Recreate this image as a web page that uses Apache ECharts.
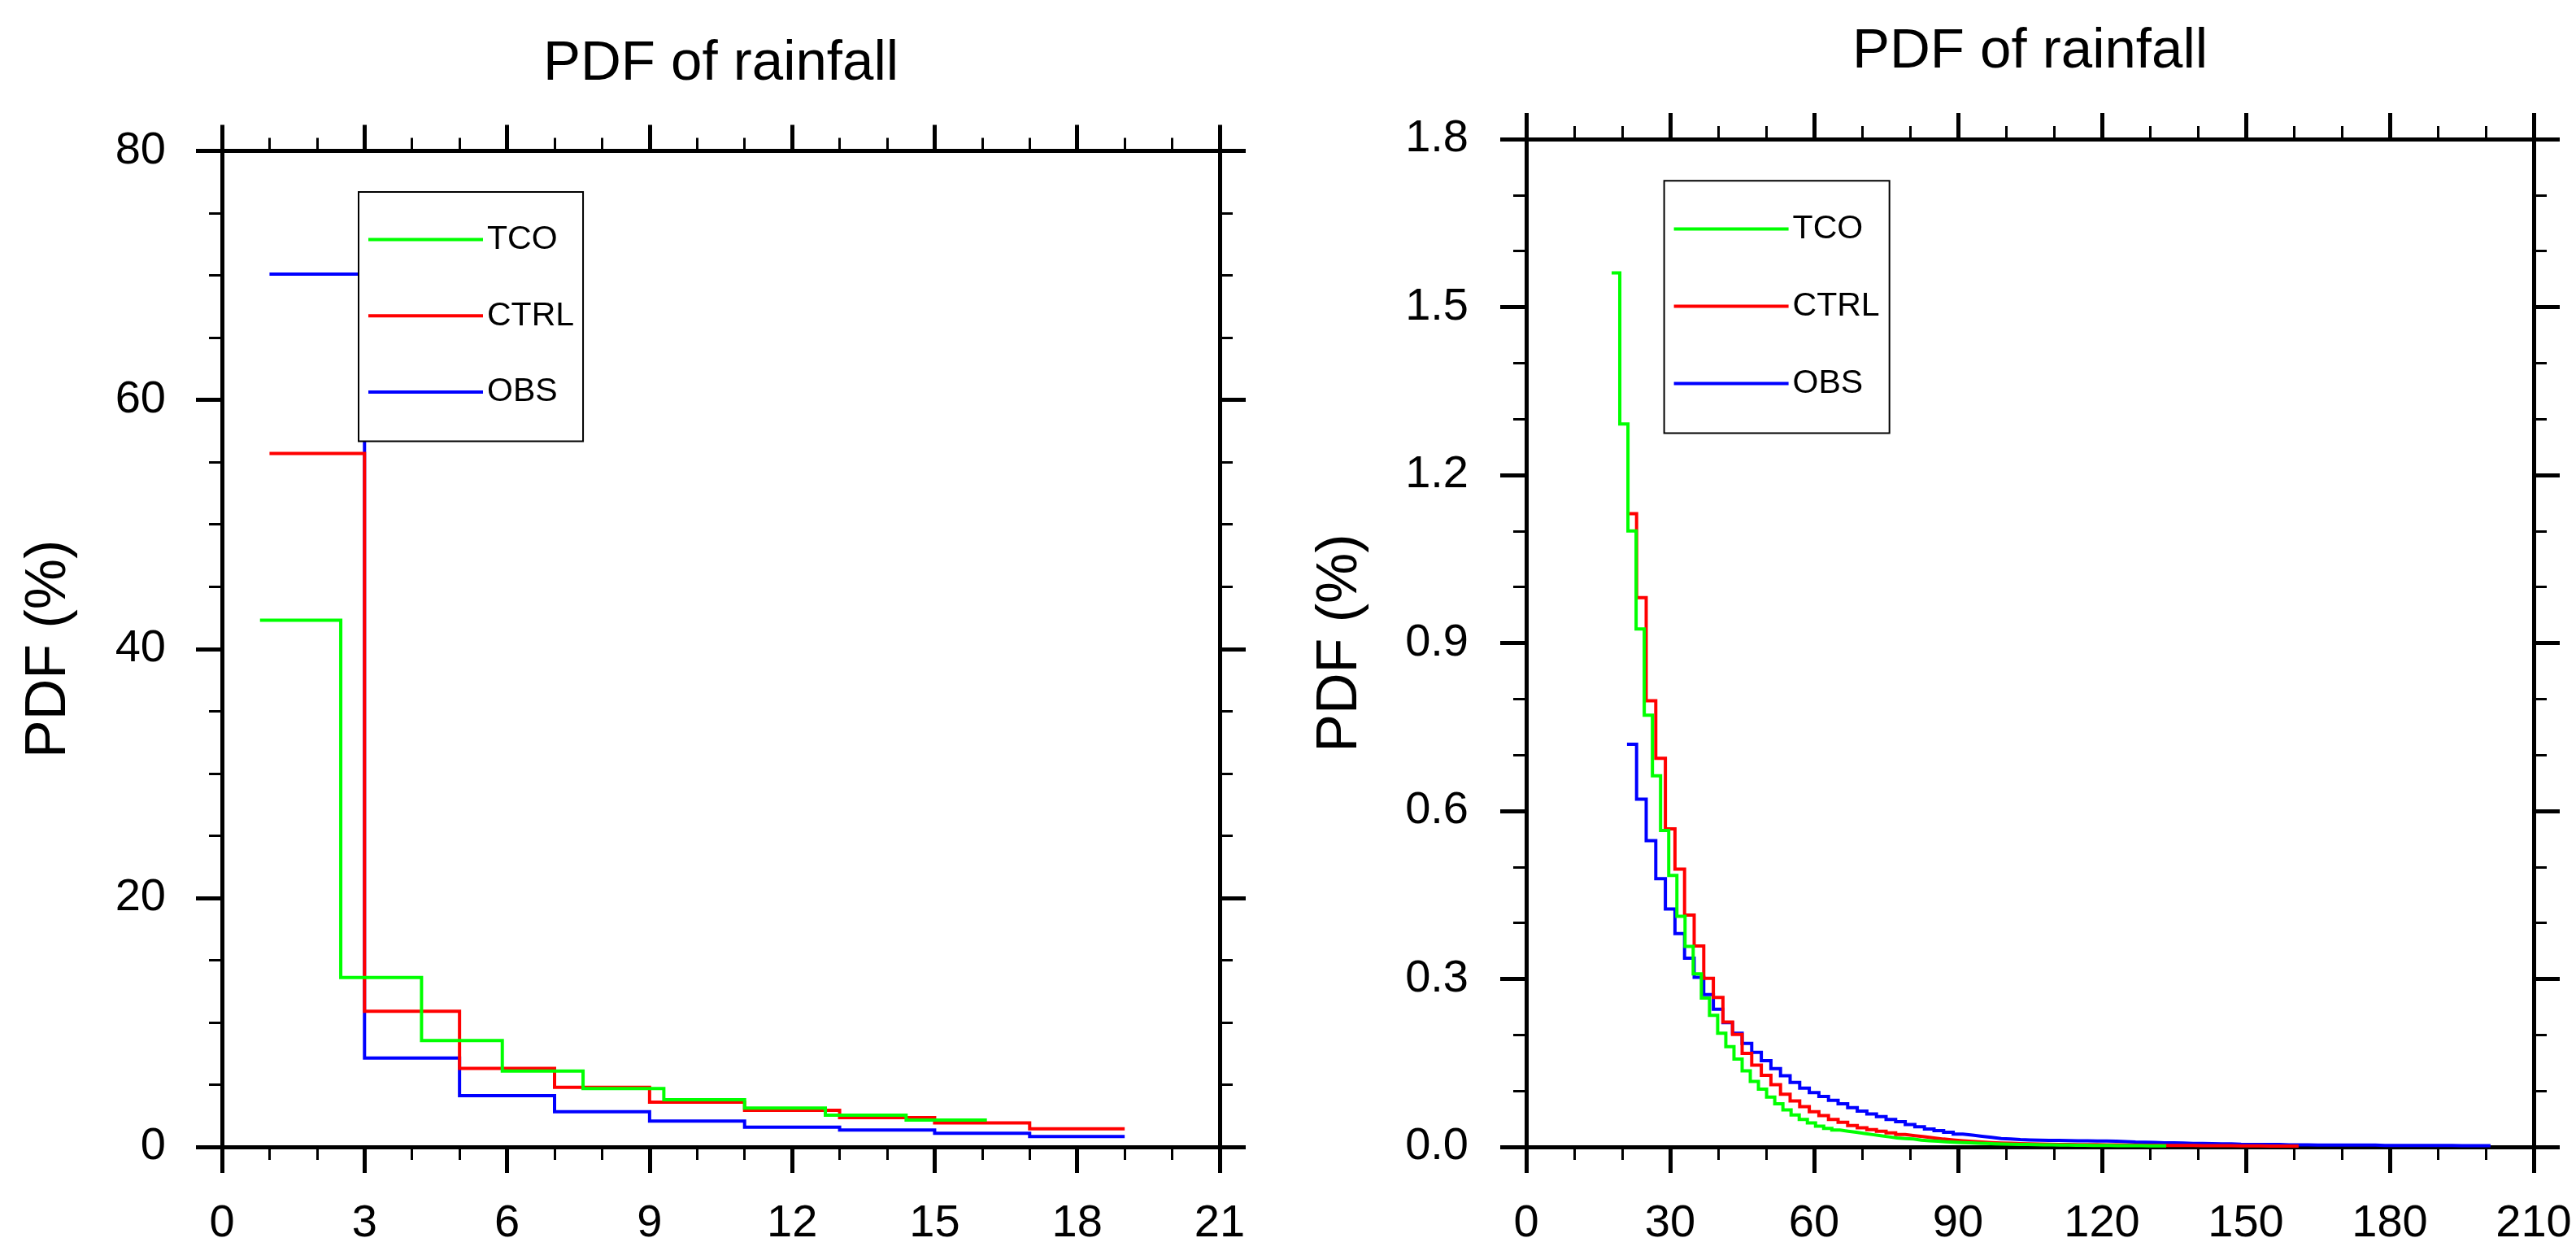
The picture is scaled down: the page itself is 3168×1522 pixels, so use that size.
<!DOCTYPE html>
<html>
<head>
<meta charset="utf-8">
<script src="https://cdn.jsdelivr.net/npm/echarts@6/dist/echarts.min.js"></script>
<style>
html, body { margin: 0; padding: 0; background: #fff; }
#chart { width: 3168px; height: 1522px; }
</style>
</head>
<body>
<div id="chart"></div>
<script>
const FONT = "'Liberation Sans', Arial, Helvetica, sans-serif";
const GREEN = "#00ff00";
const RED = "#ff0000";
const BLUE = "#0000ff";
const SERIES_NAMES = ["TCO", "CTRL", "OBS"];

// ---- left panel: rainfall 0-21 ----
const leftTcoEdges = [0.8, 2.5, 4.2, 5.9, 7.6, 9.3, 11.0, 12.7, 14.4, 16.1];
const leftTco = [42.3, 13.6, 8.54, 6.1, 4.68, 3.79, 3.12, 2.55, 2.16];
const leftEdges = [1, 3, 5, 7, 9, 11, 13, 15, 17, 19];
const leftCtrl = [55.7, 10.9, 6.31, 4.79, 3.59, 2.94, 2.35, 1.92, 1.46];
const leftObs = [70.1, 7.14, 4.12, 2.83, 2.07, 1.59, 1.35, 1.09, 0.83];

// ---- right panel: rainfall 0-210 (bins) ----
const rightTcoStart = 17.8, rightTcoWidth = 1.7;
const rightTco = [
  1.561, 1.291, 1.100, 0.925, 0.771, 0.663, 0.565, 0.485, 0.412, 0.358,
  0.309, 0.266, 0.235, 0.203, 0.179, 0.157, 0.136, 0.117, 0.103, 0.089,
  0.077, 0.066, 0.057, 0.049, 0.043, 0.037, 0.033, 0.030, 0.028, 0.026,
  0.024, 0.022, 0.020, 0.018, 0.016, 0.015, 0.014, 0.012, 0.011, 0.010,
  0.009, 0.0085, 0.0078, 0.0072, 0.0066, 0.006, 0.0056, 0.0052, 0.0048, 0.0045,
  0.0042, 0.004, 0.0037, 0.0035, 0.0033, 0.0031, 0.003, 0.0028, 0.0027, 0.0025,
  0.0024, 0.0023, 0.0022, 0.0021, 0.002, 0.0019, 0.0018, 0.0017
];
const rightStart = 21, rightWidth = 2;
const rightCtrl = [
  1.131, 0.981, 0.797, 0.694, 0.568, 0.496, 0.414, 0.359, 0.301, 0.267,
  0.223, 0.201, 0.167, 0.146, 0.128, 0.111, 0.094, 0.082, 0.072, 0.063,
  0.056, 0.049, 0.044, 0.038, 0.034, 0.031, 0.028, 0.025, 0.022, 0.020,
  0.018, 0.016, 0.014, 0.0125, 0.011, 0.0098, 0.0088, 0.0078, 0.007, 0.0064,
  0.0058, 0.0054, 0.005, 0.0047, 0.0045, 0.0043, 0.0041, 0.004, 0.0039, 0.0038,
  0.0036, 0.0034, 0.0032, 0.003, 0.0028, 0.0027, 0.0026, 0.0025, 0.0024, 0.0023,
  0.0022, 0.0021, 0.002, 0.0019, 0.0018, 0.0017, 0.0016, 0.0015, 0.0014, 0.0013
];
const rightObs = [
  0.719, 0.621, 0.547, 0.479, 0.425, 0.381, 0.337, 0.303, 0.272, 0.246,
  0.222, 0.203, 0.185, 0.169, 0.154, 0.140, 0.127, 0.115, 0.105, 0.097,
  0.090, 0.083, 0.077, 0.070, 0.064, 0.059, 0.054, 0.049, 0.045, 0.040,
  0.036, 0.032, 0.029, 0.026, 0.023, 0.021, 0.019, 0.017, 0.015, 0.014,
  0.013, 0.0125, 0.012, 0.0118, 0.0115, 0.0112, 0.011, 0.0108, 0.0106, 0.0104,
  0.010, 0.0095, 0.0088, 0.0085, 0.008, 0.0074, 0.0072, 0.007, 0.0062, 0.006,
  0.0058, 0.0056, 0.0054, 0.0046, 0.0045, 0.0044, 0.0043, 0.0042, 0.0036, 0.0035,
  0.0035, 0.0034, 0.0034, 0.0033, 0.0033, 0.0032, 0.0032, 0.0031, 0.0026, 0.0026,
  0.0025, 0.0025, 0.0025, 0.0024, 0.0024, 0.0024, 0.0023, 0.0023, 0.0022, 0.0022
];

function binEdges(start, width, count) {
  const out = [];
  for (let i = 0; i <= count; i++) out.push(+(start + i * width).toFixed(2));
  return out;
}

// step:'end' draws each value from its left edge to the next edge
function stepData(edges, values) {
  const pts = values.map((v, i) => [edges[i], v]);
  pts.push([edges[values.length], values[values.length - 1]]);
  return pts;
}

function axisBase(min, max, interval, minorSplit, gridIndex, position) {
  return {
    type: "value", gridIndex, position, min, max, interval,
    axisLine: { show: true, onZero: false, lineStyle: { color: "#000", width: 5 } },
    axisTick: { show: true, inside: false, length: 32, lineStyle: { color: "#000", width: 5 } },
    minorTick: { show: true, splitNumber: minorSplit, length: 16, lineStyle: { color: "#000", width: 3 } },
    splitLine: { show: false },
    minorSplitLine: { show: false },
    axisLabel: { show: false },
  };
}

function withLabels(axis, margin, formatter) {
  axis.axisLabel = {
    show: true, margin, color: "#000", fontSize: 56, fontFamily: FONT,
    showMinLabel: true, showMaxLabel: true,
  };
  if (formatter) axis.axisLabel.formatter = formatter;
  return axis;
}

function withName(axis, gap) {
  axis.name = "PDF (%)";
  axis.nameLocation = "middle";
  axis.nameGap = gap;
  axis.nameTextStyle = { color: "#000", fontSize: 70, lineHeight: 70, fontFamily: FONT };
  return axis;
}

function line(name, color, data, xIdx, yIdx) {
  return {
    name, type: "line", step: "end", data,
    xAxisIndex: xIdx, yAxisIndex: yIdx,
    showSymbol: false, symbol: "none", color,
    lineStyle: { color, width: 4, join: "miter", cap: "butt" },
    emphasis: { disabled: true },
    silent: true,
  };
}

function legendBox(left, top, gap, padding) {
  return {
    left, top, orient: "vertical", data: SERIES_NAMES,
    icon: "rect", itemWidth: 141, itemHeight: 4, itemGap: gap,
    padding, borderColor: "#000", borderWidth: 2, backgroundColor: "#fff",
    itemStyle: { borderWidth: 0 },
    selectedMode: false,
    textStyle: { color: "#000", fontSize: 41, lineHeight: 50, fontFamily: FONT },
  };
}

const rightTcoEdges = binEdges(rightTcoStart, rightTcoWidth, rightTco.length);
const rightCtrlEdges = binEdges(rightStart, rightWidth, rightCtrl.length);
const rightObsEdges = binEdges(rightStart, rightWidth, rightObs.length);

const chart = echarts.init(document.getElementById("chart"), null, { renderer: "canvas" });

chart.setOption({
  animation: false,
  backgroundColor: "#fff",
  title: [
    { text: "PDF of rainfall", left: 886.5, top: 44.8, textAlign: "center", padding: 0,
      textStyle: { color: "#000", fontSize: 69, fontWeight: "normal", fontFamily: FONT } },
    { text: "PDF of rainfall", left: 2496.5, top: 29.8, textAlign: "center", padding: 0,
      textStyle: { color: "#000", fontSize: 69, fontWeight: "normal", fontFamily: FONT } },
  ],
  grid: [
    { left: 273, top: 185.5, width: 1227, height: 1224.5, containLabel: false, outerBoundsMode: "none" },
    { left: 1877, top: 171, width: 1239, height: 1239, containLabel: false, outerBoundsMode: "none" },
  ],
  xAxis: [
    withLabels(axisBase(0, 21, 3, 3, 0, "bottom"), 67),
    axisBase(0, 21, 3, 3, 0, "top"),
    withLabels(axisBase(0, 210, 30, 3, 1, "bottom"), 67),
    axisBase(0, 210, 30, 3, 1, "top"),
  ],
  yAxis: [
    withName(withLabels(axisBase(0, 80, 20, 4, 0, "left"), 69), 177),
    axisBase(0, 80, 20, 4, 0, "right"),
    withName(withLabels(axisBase(0, 1.8, 0.3, 3, 1, "left"), 71, (v) => v.toFixed(1)), 193),
    axisBase(0, 1.8, 0.3, 3, 1, "right"),
  ],
  legend: [
    legendBox(441, 236, 43.7, [33.6, 11, 35.5, 12]),
    legendBox(2046.6, 222.3, 45, [34.2, 12, 36, 12]),
  ],
  series: [
    line("OBS", BLUE, stepData(leftEdges, leftObs), 0, 0),
    line("CTRL", RED, stepData(leftEdges, leftCtrl), 0, 0),
    line("TCO", GREEN, stepData(leftTcoEdges, leftTco), 0, 0),
    line("OBS", BLUE, stepData(rightObsEdges, rightObs), 2, 2),
    line("CTRL", RED, stepData(rightCtrlEdges, rightCtrl), 2, 2),
    line("TCO", GREEN, stepData(rightTcoEdges, rightTco), 2, 2),
  ],
});
</script>
</body>
</html>
